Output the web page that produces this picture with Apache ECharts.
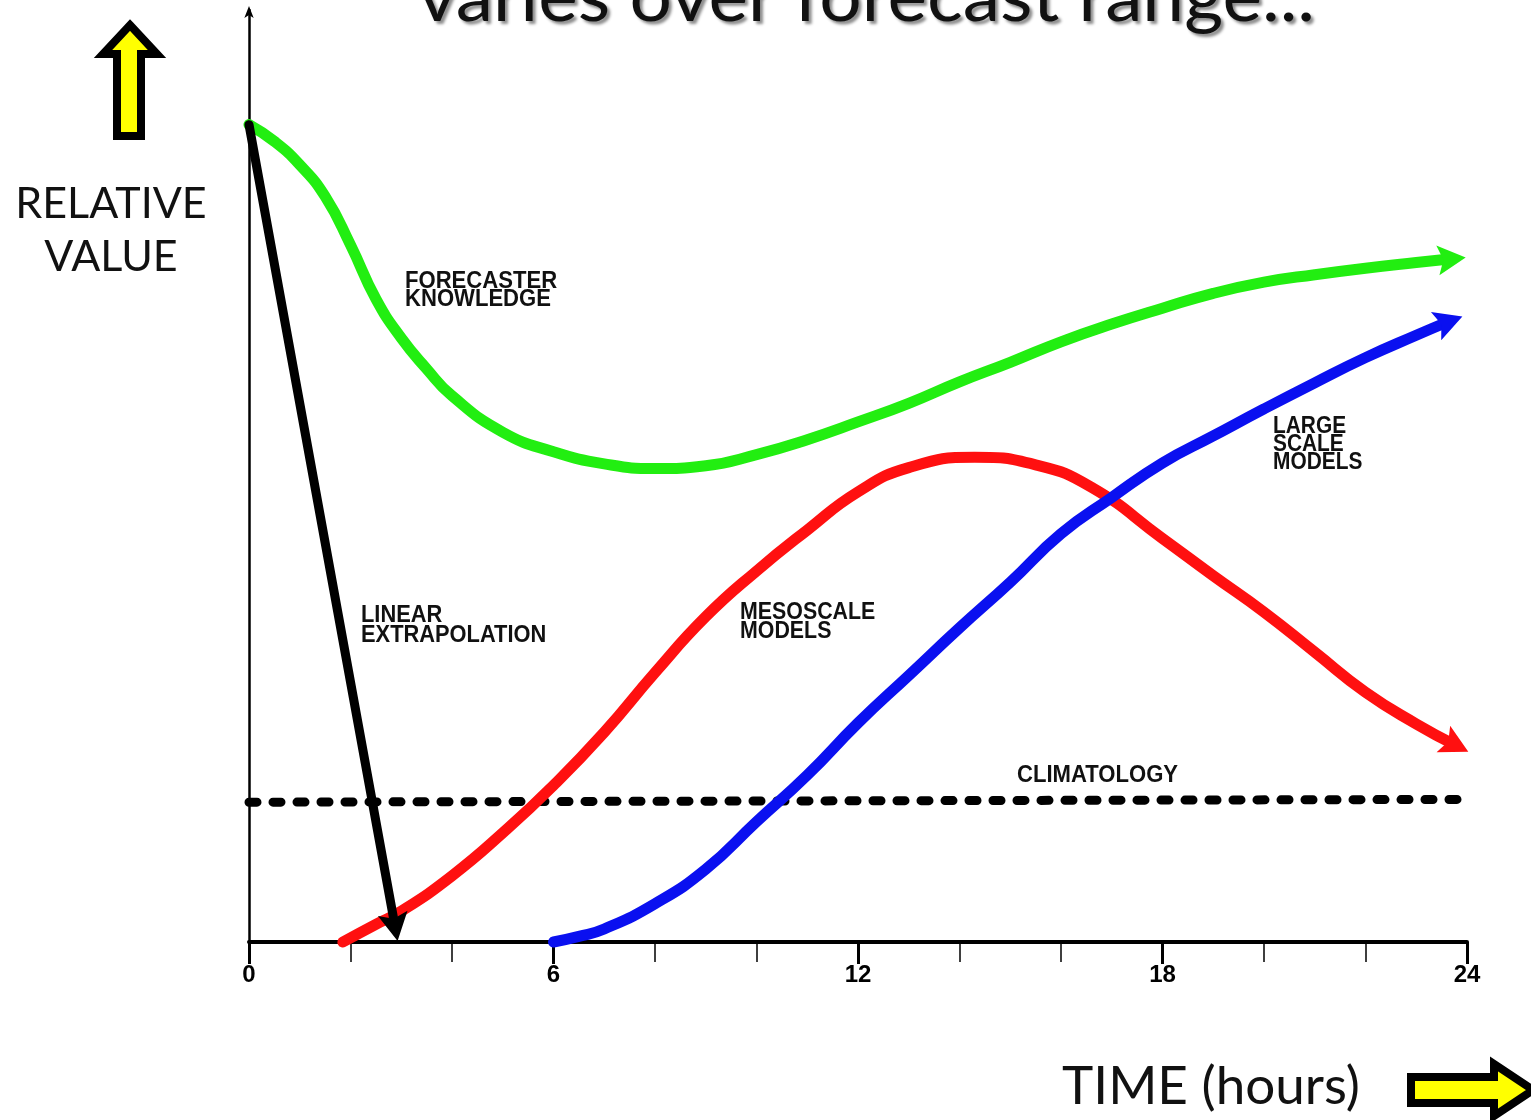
<!DOCTYPE html>
<html><head><meta charset="utf-8">
<script src="https://cdn.jsdelivr.net/npm/echarts@6/dist/echarts.min.js"></script>
<style>html,body{margin:0;padding:0;background:#fff}#c{width:1531px;height:1120px}</style>
</head><body><div id="c"></div>
<script>
// ---- data (hours, relative value 0..100) ----
const xTickLabels = ['0', '6', '12', '18', '24'];
const forecasterHours  = [0, 0.5, 1, 1.5, 2, 2.5, 3, 3.5, 4, 5, 6, 7, 8, 9, 10, 11, 12, 13, 14, 15, 16, 17, 18, 19, 20, 21, 22, 23, 23.7];
const forecasterValues = [87.7, 85.9, 83.4, 80.0, 74.8, 69.0, 64.8, 61.5, 58.6, 54.7, 52.6, 51.3, 50.8, 51.1, 52.3, 53.9, 55.8, 57.8, 60.1, 62.2, 64.4, 66.3, 68.0, 69.6, 70.8, 71.6, 72.3, 72.9, 73.3];
const mesoHours  = [1.85, 2.5, 3, 4, 5, 6, 7, 8, 9, 10, 11, 12, 13, 14.3, 15.5, 16.6, 18, 19, 20, 21, 22, 23, 23.78];
const mesoValues = [0, 1.9, 3.3, 7.1, 11.7, 16.8, 22.5, 28.9, 34.9, 39.8, 44.2, 48.3, 50.9, 52.0, 51.2, 48.8, 43.3, 39.3, 35.4, 31.1, 26.8, 23.4, 21.1];
const largeHours  = [6, 6.5, 7, 8, 9, 10, 11, 12, 13, 14, 15, 16, 17, 18, 19, 20, 21, 22, 23, 23.65];
const largeValues = [0, 0.6, 1.4, 4.1, 7.8, 12.9, 17.9, 23.5, 28.6, 33.7, 38.6, 43.8, 47.7, 51.4, 54.3, 57.2, 60.0, 62.7, 65.1, 66.6];
const linearHours  = [0, 2.88];
const linearValues = [87.7, 1.6];
const climoHours  = [0, 24];
const climoValues = [15.0, 15.3];

const ARROW = 'path://M10,0 L20,20 L10,16 L0,20 Z';
function pairs(xs, ys, rot) {
  return xs.map((x, i) => {
    const p = { value: [x, ys[i]] };
    if (rot !== undefined && i === xs.length - 1) {
      p.symbol = ARROW; p.symbolSize = [30, 28]; p.symbolRotate = rot;
    }
    return p;
  });
}

const chart = echarts.init(document.getElementById('c'), null, { renderer: 'canvas' });
const labelFont = 'Liberation Sans, Arial, sans-serif';
function lbl(text, x, y, lh, sx) {
  return { type: 'text', x: x, y: y, scaleX: sx, z: 50,
    style: { text: text, fontSize: 24, fontWeight: 'bold', fontFamily: labelFont, fill: '#111', lineHeight: lh } };
}
function curve(name, data, color, z) {
  return { name: name, type: 'line', data: data, smooth: 0.5,
    symbol: 'none', showSymbol: true, clip: false, z: z,
    itemStyle: { color: color }, lineStyle: { color: color, width: 11, cap: 'round', join: 'round' } };
}

chart.setOption({
  animation: false,
  backgroundColor: '#fff',
  grid: { left: 249, right: 64, top: 10, bottom: 178 },
  xAxis: [
    { type: 'value', min: 0, max: 24, interval: 2, position: 'bottom',
      axisLine: { show: true, lineStyle: { color: '#000', width: 4 } },
      axisTick: { show: true, length: 20, lineStyle: { color: '#000', width: 1.5 } },
      axisLabel: { show: false }, splitLine: { show: false } },
    { type: 'value', min: 0, max: 24, interval: 6, position: 'bottom',
      axisLine: { show: false },
      axisTick: { show: true, length: 22, lineStyle: { color: '#000', width: 3 } },
      axisLabel: { show: true, margin: 21, color: '#000', fontSize: 24, fontWeight: 'bold',
        fontFamily: 'Liberation Sans Narrow, Liberation Sans, sans-serif',
        formatter: v => xTickLabels[Math.round(v / 6)] },
      splitLine: { show: false } }
  ],
  yAxis: { type: 'value', min: 0, max: 100,
    axisLine: { show: true, symbol: ['none', 'arrow'], symbolSize: [7, 12], symbolOffset: [0, 4],
      lineStyle: { color: '#000', width: 2.5 } },
    axisTick: { show: false }, axisLabel: { show: false }, splitLine: { show: false } },
  series: [
    { name: 'CLIMATOLOGY', type: 'line', data: pairs(climoHours, climoValues), symbol: 'none', clip: false, z: 2,
      lineStyle: { color: '#000', width: 9, type: [8, 16], cap: 'round' } },
    curve('FORECASTER KNOWLEDGE', pairs(forecasterHours, forecasterValues, -84), '#22ee11', 3),
    curve('MESOSCALE MODELS', pairs(mesoHours, mesoValues, -117), '#ff1010', 4),
    curve('LARGE SCALE MODELS', pairs(largeHours, largeValues, -70), '#0a10f0', 5),
    { name: 'LINEAR EXTRAPOLATION', type: 'line', data: pairs(linearHours, linearValues, -170),
      symbol: 'none', showSymbol: true, clip: false, z: 6,
      itemStyle: { color: '#000' }, lineStyle: { color: '#000', width: 9, cap: 'round' } }
  ],
  graphic: [
    // cut-off title
    { type: 'text', x: 418, y: -38, scaleX: 1.04, z: 50,
      style: { text: 'varies over forecast range...', fontSize: 72, fontFamily: 'Lato, sans-serif', fill: '#111',
        textShadowColor: 'rgba(0,0,0,0.45)', textShadowBlur: 3, textShadowOffsetX: 3, textShadowOffsetY: 3 } },
    // up yellow arrow
    { type: 'polygon', z: 50, shape: { points: [[130, 25], [157, 54], [141, 54], [141, 136], [117, 136], [117, 54], [103, 54]] },
      style: { fill: '#ffff00', stroke: '#000', lineWidth: 8, lineJoin: 'miter' } },
    // right yellow arrow
    { type: 'polygon', z: 50, shape: { points: [[1411, 1077], [1494, 1077], [1494, 1064], [1533, 1090], [1494, 1116], [1494, 1103], [1411, 1103]] },
      style: { fill: '#ffff00', stroke: '#000', lineWidth: 8, lineJoin: 'miter' } },
    { type: 'text', x: 111, y: 178, z: 50,
      style: { text: 'RELATIVE\nVALUE', fontSize: 43, fontFamily: 'Lato, sans-serif', fill: '#111', align: 'center', lineHeight: 53 } },
    { type: 'text', x: 1062, y: 1060, z: 50,
      style: { text: 'TIME (hours)', fontSize: 53, fontFamily: 'Lato, sans-serif', fill: '#111' } },
    lbl('FORECASTER\nKNOWLEDGE', 405, 272, 18, 0.92),
    lbl('LINEAR\nEXTRAPOLATION', 361, 605, 20, 0.91),
    lbl('MESOSCALE\nMODELS', 740, 603, 19, 0.89),
    lbl('LARGE\nSCALE\nMODELS', 1273, 417, 18, 0.87),
    lbl('CLIMATOLOGY', 1017, 765, 20, 0.92)
  ]
});
</script></body></html>
